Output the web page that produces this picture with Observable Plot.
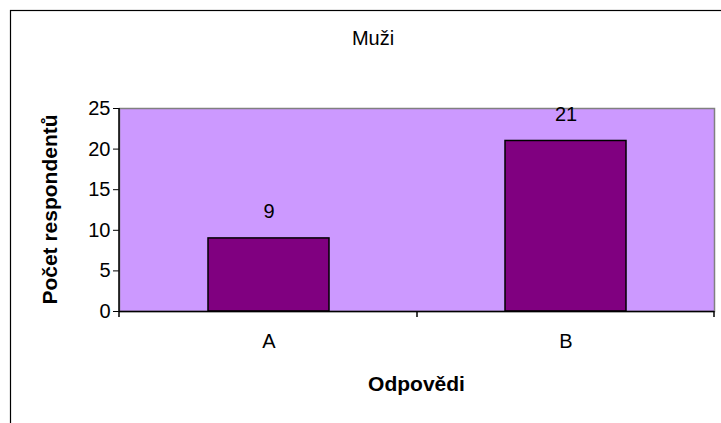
<!DOCTYPE html>
<html>
<head>
<meta charset="utf-8">
<script src="https://cdn.jsdelivr.net/npm/d3@7"></script>
<script src="https://cdn.jsdelivr.net/npm/@observablehq/plot@0.6"></script>
<style>
  html, body { margin: 0; padding: 0; background: white; }
</style>
</head>
<body>
<div id="chart"></div>
<script>
const categories = ["A", "B"];
const values = [9, 21];
const yTicks = [0, 5, 10, 15, 20, 25];
const chartTitle = "Muži";
const xTitle = "Odpovědi";
const yTitle = "Počet respondentů";

const data = categories.map((c, i) => ({cat: c, value: values[i]}));
const FONT = "'Liberation Sans', Arial, sans-serif";
const FS = "20px";

const plot = Plot.plot({
  width: 721,
  height: 423,
  marginLeft: 119,
  marginRight: 7,
  marginTop: 108,
  marginBottom: 112,
  style: {fontFamily: FONT, fontSize: FS, background: "white", color: "black", overflow: "visible"},
  x: {domain: categories, paddingInner: 0.593, paddingOuter: 0.2966, tickSize: 0, tickPadding: 22, label: null},
  y: {domain: [0, 25], ticks: yTicks, tickSize: 6, tickPadding: 3, label: null},
  marks: [
    Plot.frame({fill: "#CC99FF", stroke: "#808080", strokeWidth: 1.5}),
    Plot.barY(data, {x: "cat", y: "value", fill: "#800080", stroke: "black", strokeWidth: 1.5}),
    Plot.text(data, {x: "cat", y: "value", text: d => String(d.value), lineAnchor: "bottom", dy: -20, fill: "black"}),
    Plot.ruleY([0], {stroke: "black", strokeWidth: 1.5})
  ]
});

const svg = d3.select(plot);
svg.selectAll("text").style("font-family", FONT).style("font-size", FS);

const xs = plot.scale("x");
const ys = plot.scale("y");
const [x0, x1] = xs.range;
const yBottom = ys.apply(0);
const yTop = ys.apply(25);
const bounds = [x0];
for (let i = 1; i < categories.length; i++) {
  const prevEnd = xs.apply(categories[i - 1]) + xs.bandwidth;
  bounds.push((prevEnd + xs.apply(categories[i])) / 2);
}
bounds.push(x1);

// left axis line
svg.append("line").attr("x1", x0).attr("x2", x0).attr("y1", yTop).attr("y2", yBottom)
  .attr("stroke", "black").attr("stroke-width", 1.5);
// category boundary ticks
bounds.forEach(b => {
  svg.append("line").attr("x1", b).attr("x2", b).attr("y1", yBottom).attr("y2", yBottom + 6)
    .attr("stroke", "black").attr("stroke-width", 1.5);
});

// outer chart border
svg.append("rect").attr("x", 10.5).attr("y", 10.5).attr("width", 740).attr("height", 440)
  .attr("fill", "none").attr("stroke", "black").attr("stroke-width", 1.2);

// title
svg.append("text").text(chartTitle).attr("x", 373).attr("y", 45)
  .attr("text-anchor", "middle").style("font-family", FONT).style("font-size", FS).attr("fill", "black");
// x title
svg.append("text").text(xTitle).attr("x", (x0 + x1) / 2).attr("y", 391)
  .attr("text-anchor", "middle").style("font-family", FONT).style("font-size", "21px")
  .style("font-weight", "bold").attr("fill", "black");
// y title
svg.append("text").text(yTitle)
  .attr("transform", `translate(57,${(yTop + yBottom) / 2}) rotate(-90)`)
  .attr("text-anchor", "middle").style("font-family", FONT).style("font-size", "21px")
  .style("font-weight", "bold").attr("fill", "black");

document.getElementById("chart").appendChild(plot);
</script>
</body>
</html>
